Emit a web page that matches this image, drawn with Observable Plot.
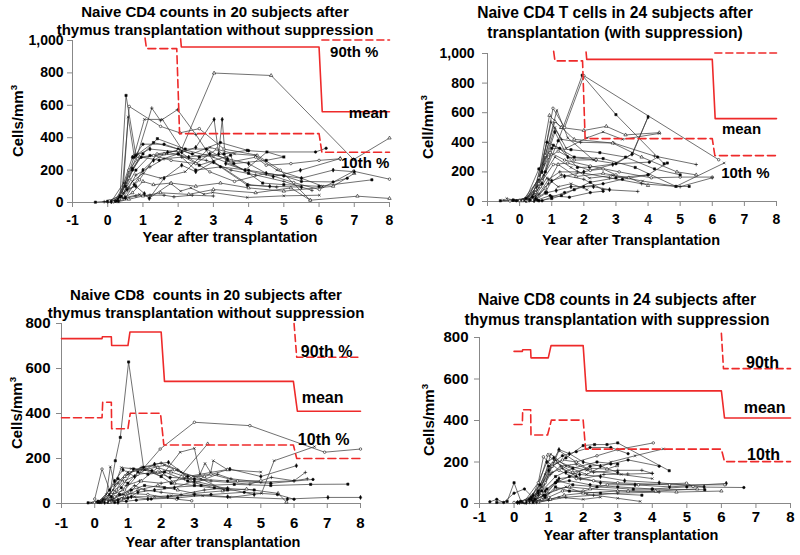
<!DOCTYPE html>
<html><head><meta charset="utf-8">
<script src="https://cdn.jsdelivr.net/npm/d3@7"></script>
<script src="https://cdn.jsdelivr.net/npm/@observablehq/plot@0.6"></script>
<style>
html,body{margin:0;padding:0;background:#fff;}
#wrap{position:relative;width:800px;height:555px;overflow:hidden;font-family:"Liberation Sans",Arial,sans-serif;font-weight:bold;color:#000;}
.t{position:absolute;text-align:center;white-space:nowrap;font-weight:bold;}
.yl{position:absolute;white-space:nowrap;font-weight:bold;transform:translate(-50%,-50%) rotate(-90deg);}
.yl sup{font-size:0.65em;}
.p{position:absolute;}
</style></head>
<body><div id="wrap"></div>
<script>
// ---------- tick values ----------
const xTicks = [-1,0,1,2,3,4,5,6,7,8];
const cd4YTicks = [0,200,400,600,800,1000];
const cd8YTicks = [0,200,400,600,800];

// ---------- Naive CD4, 20 subjects, no suppression ----------
const cd4NoSupp = [
 [[-0.35,2],[0.0,8],[0.35,40],[0.52,661],[0.8,290],[1.3,370],[2.0,330],[2.6,280],[3.3,300],[3.96,322]],
 [[0.05,10],[0.4,50],[0.61,593],[1.5,470],[2.05,430],[2.6,456],[3.3,330],[4.24,292],[4.9,200],[5.75,14]],
 [[0.1,5],[0.45,120],[0.58,528],[0.75,290],[1.04,513],[1.55,513],[2.1,330],[3.0,280],[3.9,200],[4.52,312],[5.0,281]],
 [[0.25,15],[0.6,150],[0.9,280],[1.6,300],[2.1,330],[3.02,799],[4.64,784],[6.98,265],[8.0,398]],
 [[0.2,10],[0.5,120],[0.85,300],[1.25,583],[1.5,505],[1.98,573],[2.5,420],[3.02,250],[4.0,110],[4.8,95]],
 [[0.3,20],[0.7,280],[1.2,330],[2.1,310],[2.5,340],[3.02,513],[3.15,300],[3.25,513],[3.35,240],[3.9,200],[4.7,160],[5.47,199],[6.6,271]],
 [[0.35,30],[0.75,280],[1.0,360],[1.6,360],[2.4,300],[3.2,370],[4.0,320],[4.52,312],[5.9,312],[6.2,335]],
 [[0.4,40],[0.8,200],[1.2,290],[2.0,300],[2.6,230],[3.49,292],[3.58,240],[4.5,260],[5.0,281]],
 [[0.45,40],[0.9,140],[1.4,300],[2.0,320],[2.9,189],[3.6,130],[4.48,179],[5.28,123],[6.01,80],[6.98,193],[8.0,144]],
 [[0.2,5],[0.5,30],[0.9,50],[1.2,30],[1.79,117],[2.07,70],[2.36,90],[2.73,51],[2.98,62],[3.96,31],[5.0,41],[6.01,45]],
 [[0.3,5],[0.6,20],[1.0,40],[1.5,60],[2.3,50],[3.0,80],[4.2,60],[5.2,90],[5.75,14],[7.09,39],[8.0,25]],
 [[-0.1,5],[0.2,10],[0.5,25],[0.8,40],[1.2,45],[1.6,45],[1.88,35],[2.4,45],[3.0,40]],
 [[0.3,10],[0.55,80],[0.8,100],[1.04,55],[1.18,25],[1.6,150],[2.1,230],[2.5,190],[3.0,250],[3.96,107],[4.6,100],[5.5,95]],
 [[0.4,25],[0.7,200],[0.95,280],[1.46,261],[2.0,300],[2.5,200],[3.2,220],[4.0,199],[5.0,164],[5.5,130],[6.4,127],[6.8,150]],
 [[0.25,10],[0.5,100],[0.7,210],[1.0,300],[1.41,394],[2.2,330],[2.8,330],[3.4,260],[4.0,180],[4.4,120],[5.0,110],[6.0,100],[7.5,140]],
 [[0.35,20],[0.6,200],[0.85,270],[1.3,290],[1.8,260],[2.5,240],[3.1,330],[3.5,250],[4.2,280],[4.5,230],[5.2,240],[6.0,260],[6.6,270]],
 [[0.2,5],[0.45,60],[0.7,130],[1.0,180],[1.5,150],[2.2,190],[2.9,340],[3.6,300],[4.2,290],[4.8,200],[5.5,150],[6.1,100]],
 [[0.15,5],[0.4,20],[0.7,60],[1.0,130],[1.3,110],[1.8,120],[2.5,100],[3.2,120],[4.0,90],[5.0,70],[6.4,100],[7.0,180]],
 [[0.0,3],[0.3,15],[0.6,90],[0.8,170],[1.2,220],[1.6,270],[2.1,280],[2.8,260],[3.5,200],[4.2,170],[5.0,130],[5.8,75]],
 [[0.1,5],[0.5,30],[0.75,110],[1.0,200],[1.3,260],[1.7,310],[2.3,280],[2.9,300],[3.4,270],[4.0,240],[4.5,180],[5.5,150],[6.4,200],[7.0,190]]
];

// ---------- Naive CD4 T cells, 24 subjects, with suppression ----------
const cd4Supp = [
 [[-0.6,5],[-0.2,8],[0.3,10],[0.8,200],[1.2,410],[1.95,853],[3.0,587],[4.5,255]],
 [[-0.3,3],[0.2,6],[0.6,120],[1.04,630],[1.4,500],[2.0,850],[6.2,282]],
 [[-0.5,10],[0.1,5],[0.55,100],[1.16,616],[1.5,430],[2.3,280],[3.0,255],[3.52,323],[4.0,571]],
 [[0.0,5],[0.5,60],[0.93,582],[1.3,500],[2.0,480],[2.7,508],[3.3,450],[4.35,465]],
 [[0.1,8],[0.6,150],[0.98,537],[1.3,420],[1.9,400],[2.93,395],[4.2,307],[5.5,250]],
 [[0.2,5],[0.7,200],[1.1,470],[1.5,300],[2.38,282]],
 [[-0.1,5],[0.4,30],[0.85,400],[1.25,360],[1.8,230],[2.18,232],[3.0,255],[4.04,266],[4.3,300]],
 [[0.3,10],[0.7,120],[1.05,380],[1.7,300],[2.6,290],[3.6,230],[4.87,102],[5.28,102]],
 [[0.25,5],[0.65,100],[0.95,330],[1.4,280],[2.2,240],[3.1,200],[4.1,160],[5.0,165],[6.0,165]],
 [[0.35,10],[0.75,180],[1.1,300],[1.6,230],[2.18,158],[2.9,176],[3.83,138],[4.87,102],[6.37,260]],
 [[0.4,8],[0.8,90],[1.2,250],[1.76,169],[2.6,190],[3.4,160],[4.0,108]],
 [[0.5,15],[0.9,120],[1.3,180],[2.0,150],[2.59,81],[3.68,68]],
 [[0.45,5],[0.85,60],[1.14,74],[1.6,100],[2.3,100],[2.8,80]],
 [[0.55,10],[0.95,40],[1.55,29],[2.2,60],[2.6,70]],
 [[0.6,5],[1.0,20],[1.3,40],[1.7,80],[2.2,130],[3.0,160],[4.0,180],[4.6,260]],
 [[0.2,10],[0.6,160],[0.9,300],[1.2,340],[1.7,280],[2.38,282]],
 [[-0.4,20],[-0.1,5],[0.4,40],[0.75,250],[1.1,500],[1.45,360],[2.1,430],[2.6,470],[3.2,420],[4.35,460]],
 [[0.1,5],[0.5,80],[0.8,310],[1.1,540],[1.3,500],[1.7,420],[2.9,395],[3.8,300],[4.9,200],[5.5,180]],
 [[0.3,5],[0.6,50],[0.9,150],[1.25,200],[1.8,200],[2.8,160],[3.8,120],[5.0,100],[6.0,160]],
 [[0.5,20],[0.8,60],[1.0,140],[1.4,170],[2.0,200],[2.9,250],[3.5,320],[4.0,571]],
 [[0.7,5],[1.0,30],[1.4,60],[2.0,100],[2.6,120],[3.2,150],[4.0,180]],
 [[-0.2,10],[0.2,20],[0.6,220],[1.0,360],[1.6,350],[2.5,330],[3.3,300],[4.2,220],[5.0,180]],
 [[0.4,10],[0.7,140],[1.05,250],[1.5,260],[2.2,210],[2.6,220],[3.0,180]],
 [[0.15,5],[0.5,40],[0.85,160],[1.2,100],[1.6,120],[2.1,80]]
];

// ---------- Naive CD8, 20 subjects, no suppression ----------
const cd8NoSupp = [
 [[-0.2,3],[0.1,10],[0.45,40],[0.62,190],[0.77,294],[1.02,629],[1.47,161],[2.0,120],[2.3,90],[3.0,80],[4.0,60]],
 [[0.0,20],[0.22,153],[0.5,40],[0.9,60],[1.97,242],[3.0,361],[4.67,346],[6.92,228],[8.0,242]],
 [[0.1,5],[0.35,40],[0.47,163],[0.6,80],[1.0,140],[1.5,150],[2.0,120],[2.57,228],[3.0,245],[3.17,131],[3.32,178],[3.49,138],[3.57,190],[4.0,150],[5.0,140]],
 [[0.2,5],[0.6,50],[0.9,120],[1.2,150],[1.8,170],[2.4,90],[3.4,265]],
 [[0.3,10],[0.7,90],[1.0,130],[1.4,160],[2.0,180],[2.5,150],[3.0,90],[3.7,130],[4.1,110],[5.0,95],[6.0,101],[6.34,138]],
 [[0.25,15],[0.6,100],[0.85,150],[1.2,120],[1.8,175],[2.22,183],[2.8,120],[4.07,153],[5.0,120],[6.07,168]],
 [[0.15,5],[0.5,30],[0.8,70],[1.17,153],[1.72,146],[2.27,116],[3.0,110],[4.0,100],[5.3,90],[6.57,107]],
 [[0.4,5],[0.75,40],[1.1,60],[1.5,80],[2.1,70],[3.2,80],[4.2,85],[5.3,80],[6.5,85],[7.62,86]],
 [[0.0,5],[0.3,10],[0.6,30],[1.0,45],[1.6,40],[2.47,19],[2.92,12]],
 [[-0.1,3],[0.4,10],[0.8,20],[1.2,30],[1.8,30],[2.3,35],[3.25,34],[4.07,27],[5.02,45],[5.4,190],[6.62,253]],
 [[0.5,10],[0.9,30],[1.3,60],[1.9,80],[2.5,60],[3.0,45],[3.85,56],[4.57,64],[5.52,45],[5.77,6]],
 [[0.2,8],[0.55,20],[0.95,80],[1.35,100],[2.0,90],[2.7,110],[3.5,100],[4.67,86],[5.32,116],[6.0,101],[6.4,110]],
 [[0.3,5],[0.7,15],[1.1,30],[1.6,20],[2.2,30],[3.0,40],[4.0,30],[5.8,20],[7.02,27],[8.0,27]],
 [[0.6,5],[0.95,10],[1.25,15],[1.7,20],[2.5,25],[3.5,40],[4.5,50],[5.5,40],[6.0,19]],
 [[0.1,5],[0.45,60],[0.7,110],[1.0,90],[1.3,140],[1.6,130],[2.1,140],[2.8,100],[3.6,70],[4.8,60]],
 [[0.35,10],[0.65,60],[0.9,100],[1.3,130],[1.9,140],[2.4,150],[2.9,120],[3.5,130],[4.3,100],[5.0,101]],
 [[0.05,8],[0.3,20],[0.55,60],[0.8,160],[1.1,155],[1.5,150],[2.1,170],[2.6,140],[3.2,110],[3.9,60]],
 [[0.45,5],[0.8,20],[1.05,50],[1.4,100],[1.9,160],[2.3,140],[2.7,120],[3.3,120],[4.0,150]],
 [[0.2,5],[0.5,15],[0.85,40],[1.2,80],[1.5,60],[2.0,50],[2.6,40],[3.3,60],[4.0,70]],
 [[0.7,5],[1.0,25],[1.3,50],[1.8,60],[2.4,70],[3.0,100],[4.0,65],[4.8,40]]
];

// ---------- Naive CD8, 24 subjects, with suppression ----------
const cd8Supp = [
 [[0.3,5],[0.7,60],[1.1,180],[1.5,220],[2.0,279],[2.33,284],[2.69,284],[3.0,292],[4.49,158]],
 [[0.5,10],[0.9,100],[1.3,255],[1.8,200],[2.4,230],[3.0,260],[4.03,292]],
 [[0.4,5],[0.8,80],[1.06,238],[1.5,180],[2.1,140],[2.8,200],[3.5,230],[4.32,263]],
 [[0.2,5],[0.6,30],[0.98,234],[1.2,200],[1.7,150],[2.2,170],[2.69,166],[2.98,182]],
 [[0.35,10],[0.75,90],[1.1,150],[1.4,170],[1.92,118],[2.6,140],[3.29,142],[4.0,145]],
 [[0.1,5],[0.5,20],[0.9,60],[1.3,120],[1.8,130],[2.5,100],[3.5,90],[4.5,80],[6.14,97]],
 [[0.45,5],[0.85,40],[1.2,100],[1.6,110],[2.2,90],[3.0,80],[4.0,70],[5.0,80],[6.65,77]],
 [[0.55,10],[0.95,70],[1.25,110],[1.7,90],[2.4,80],[3.45,69],[4.0,69],[5.52,66]],
 [[0.6,5],[1.0,30],[1.4,60],[2.0,60],[2.7,90],[3.6,90],[4.99,98],[5.18,82]],
 [[0.25,5],[0.65,20],[1.0,50],[1.5,80],[2.11,45],[3.0,25],[3.65,10]],
 [[0.7,5],[1.05,20],[1.45,40],[2.0,50],[3.0,60],[4.1,60],[5.3,70]],
 [[0.3,5],[0.7,40],[1.05,140],[1.35,180],[1.8,190],[2.3,150],[3.0,160],[3.7,160],[4.0,145]],
 [[0.15,5],[0.55,40],[0.95,200],[1.15,220],[1.5,150],[1.9,140],[2.5,130],[3.2,110],[4.2,100],[5.5,80]],
 [[-0.7,8],[-0.5,20],[-0.3,5],[0.0,50],[0.3,70],[0.6,20],[0.9,40],[1.2,100],[1.6,130],[2.2,180],[2.8,190],[3.3,210],[4.2,180]],
 [[-0.5,5],[-0.2,10],[0.0,100],[0.2,10],[0.5,30],[0.8,60],[1.2,130],[1.7,170],[2.4,200],[3.0,190]],
 [[0.5,5],[0.8,50],[1.1,190],[1.3,160],[1.8,120],[2.3,110],[3.0,100],[4.5,90],[6.1,90]],
 [[0.2,5],[0.6,30],[0.9,140],[1.2,210],[1.6,180],[2.1,160],[3.1,140],[4.0,120]],
 [[0.4,5],[0.8,20],[1.2,70],[1.6,80],[2.2,70],[3.3,60],[4.7,55],[6.0,60]],
 [[0.65,5],[1.0,15],[1.5,30],[2.3,40],[3.0,50],[4.2,55]],
 [[0.35,5],[0.7,50],[1.0,160],[1.3,260],[1.6,240],[2.0,200],[2.5,180],[3.0,150]],
 [[0.1,5],[0.45,20],[0.75,90],[1.0,180],[1.4,230],[1.8,250],[2.2,270],[2.8,270],[3.3,240]],
 [[0.55,5],[0.9,30],[1.2,80],[1.6,60],[2.5,50],[3.7,40]],
 [[0.0,5],[0.3,10],[0.7,100],[0.85,225],[1.1,180],[1.4,210],[1.8,200],[2.2,160]],
 [[0.25,3],[0.6,10],[1.0,20],[1.3,30],[2.0,20],[2.5,30]]
];

// ---------- reference lines (mean, 10th, 90th percentiles) ----------
const cd4Mean = [[2.07,1010],[2.09,960],[6.0,960],[6.09,560],[8.0,560]];
const cd4P10  = [[1.06,1015],[1.1,950],[1.96,950],[2.04,425],[6.0,425],[6.08,310],[8.0,310]];
const cd4P90  = [[6.08,1003],[8.0,1003]];
const cd8NoMean = [[-1,733],[0.22,733],[0.23,741],[0.5,741],[0.51,702],[1.0,702],[1.06,762],[2.0,762],[2.1,543],[5.98,543],[6.1,410],[8.0,410]];
const cd8NoP10  = [[-1,381],[0.22,381],[0.24,450],[0.5,450],[0.51,332],[1.0,332],[1.07,401],[1.98,401],[2.08,260],[5.98,260],[6.08,200],[8.0,200]];
const cd8NoP90  = [[6.0,800],[6.08,650],[8.0,650]];
const cd8SuppMean = [[0.0,733],[0.24,733],[0.25,741],[0.48,741],[0.49,702],[0.99,702],[1.07,761],[2.0,761],[2.09,543],[6.0,543],[6.09,412],[8.0,412]];
const cd8SuppP10  = [[0.0,381],[0.24,381],[0.25,452],[0.48,452],[0.49,330],[0.97,330],[1.08,402],[2.0,402],[2.07,262],[6.0,262],[6.09,202],[8.0,202]];
const cd8SuppP90  = [[6.0,820],[6.06,650],[8.0,650]];

// ---------- annotation labels ----------
const cd4NoLabels = [{x:7.0,y:926,t:"90th %"},{x:7.4,y:549,t:"mean"},{x:7.31,y:241,t:"10th %"}];
const cd4SuppLabels = [{x:6.91,y:486,t:"mean"},{x:7.03,y:189,t:"10th %"}];
const cd8NoLabels = [{x:6.98,y:676,t:"90th %"},{x:6.86,y:471,t:"mean"},{x:6.89,y:284,t:"10th %"}];
const cd8SuppLabels = [{x:7.19,y:680,t:"90th"},{x:7.25,y:463,t:"mean"},{x:7.22,y:236,t:"10th"}];

// ---------- drawing ----------
const RED = "#ee2a2a";
const SYMS = ["square","circle","times","triangle","plus","diamond","circle"];
const FILLED = [true,false,false,false,false,true,true];

function flatten(subjects){
  const pts = [];
  subjects.forEach((s,i)=>s.forEach(([x,y])=>pts.push({id:i,x,y,sym:SYMS[i%7],f:FILLED[i%7]})));
  return pts;
}

function panel(o){
  const pts = flatten(o.subjects);
  const fs = o.fs;
  const svg = Plot.plot({
    width:o.w, height:o.h, marginLeft:o.ml, marginRight:o.mr, marginTop:o.mt, marginBottom:o.mb,
    x:{domain:[-1,8]},
    y:{domain:[0,o.yMax]},
    style:{fontFamily:"'Liberation Sans',Arial,sans-serif",fontSize:fs+"px",fontWeight:"bold",color:"#000",background:"transparent",overflow:"visible"},
    marks:[
      Plot.axisX({ticks:xTicks, tickSize:5, tickPadding:o.xpad, tickFormat:d=>String(d).replace("−","-"), label:null, stroke:"#888"}),
      Plot.axisY({ticks:o.yTicks, tickSize:5, tickPadding:o.ypad, tickFormat:d3.format(","), label:null, stroke:"#888"}),
      Plot.ruleX([-1],{stroke:"#888"}),
      Plot.ruleY([0],{stroke:"#888"}),
      Plot.line(pts,{x:"x",y:"y",z:"id",stroke:"#333",strokeWidth:0.7}),
      Plot.dot(pts,{x:"x",y:"y",symbol:"sym",r:1.25,stroke:"#111",strokeWidth:0.6,fill:d=>d.f?"#000":"#fff"}),
      Plot.line(o.mean,{x:d=>d[0],y:d=>d[1],stroke:RED,strokeWidth:1.6,clip:false}),
      Plot.line(o.p10,{x:d=>d[0],y:d=>d[1],stroke:RED,strokeWidth:1.6,strokeDasharray:"8,4"}),
      Plot.line(o.p90,{x:d=>d[0],y:d=>d[1],stroke:RED,strokeWidth:1.6,strokeDasharray:"7,4"}),
      Plot.text(o.labels,{x:"x",y:"y",text:"t",fontSize:fs+1,fontWeight:"bold",fill:"#000"})
    ]
  });
  svg.classList.add("p");
  svg.style.left = o.left+"px";
  svg.style.top = o.top+"px";
  return svg;
}

const wrap = document.getElementById("wrap");
function addText(cls, html, css){
  const d = document.createElement("div");
  d.className = cls; d.innerHTML = html;
  Object.assign(d.style, css);
  wrap.appendChild(d);
}

wrap.appendChild(panel({subjects:cd4NoSupp, mean:cd4Mean, p10:cd4P10, p90:cd4P90, labels:cd4NoLabels,
  yMax:1000, yTicks:cd4YTicks, left:0, top:0, w:400, h:250, ml:72, mr:11, mt:40, mb:48, fs:14, xpad:8, ypad:4}));
wrap.appendChild(panel({subjects:cd4Supp, mean:cd4Mean, p10:cd4P10, p90:cd4P90, labels:cd4SuppLabels,
  yMax:1000, yTicks:cd4YTicks, left:400, top:0, w:400, h:250, ml:87, mr:24, mt:53, mb:49, fs:14, xpad:8, ypad:8}));
wrap.appendChild(panel({subjects:cd8NoSupp, mean:cd8NoMean, p10:cd8NoP10, p90:cd8NoP90, labels:cd8NoLabels,
  yMax:800, yTicks:cd8YTicks, left:0, top:280, w:400, h:275, ml:61, mr:40, mt:43, mb:52, fs:15, xpad:9, ypad:6}));
wrap.appendChild(panel({subjects:cd8Supp, mean:cd8SuppMean, p10:cd8SuppP10, p90:cd8SuppP90, labels:cd8SuppLabels,
  yMax:800, yTicks:cd8YTicks, left:400, top:280, w:400, h:275, ml:79, mr:10, mt:57, mb:52, fs:15, xpad:3, ypad:6}));

// titles
addText("t","Naive CD4 counts in 20 subjects after<br>thymus transplantation without suppression",{left:"15px",width:"400px",top:"3px",fontSize:"15px",lineHeight:"18px"});
addText("t","Naive CD4 T cells in 24 subjects after<br>transplantation (with suppression)",{left:"415px",width:"400px",top:"3px",fontSize:"15.6px",lineHeight:"20px"});
addText("t","Naive CD8&nbsp; counts in 20 subjects after<br>thymus transplantation without suppression",{left:"6px",width:"400px",top:"286px",fontSize:"15px",lineHeight:"18px"});
addText("t","Naive CD8 counts in 24 subjects after<br>thymus transplantation with suppression",{left:"417px",width:"400px",top:"290px",fontSize:"15.6px",lineHeight:"20px"});
// x labels
addText("t","Year after transplantation",{left:"30px",width:"400px",top:"228px",fontSize:"14.5px",lineHeight:"18px"});
addText("t","Year after Transplantation",{left:"431px",width:"400px",top:"231px",fontSize:"14.5px",lineHeight:"18px"});
addText("t","Year after transplantation",{left:"13px",width:"400px",top:"533px",fontSize:"14.5px",lineHeight:"18px"});
addText("t","Year after transplantation",{left:"431px",width:"400px",top:"527px",fontSize:"14.5px",lineHeight:"16px"});
// y labels
addText("yl","Cells/mm<sup>3</sup>",{left:"17px",top:"121px",fontSize:"15px"});
addText("yl","Cell/mm<sup>3</sup>",{left:"427px",top:"127px",fontSize:"15px"});
addText("yl","Cells/mm<sup>3</sup>",{left:"16px",top:"413px",fontSize:"15px"});
addText("yl","Cells/mm<sup>3</sup>",{left:"428px",top:"420px",fontSize:"15px"});
</script></body></html>
